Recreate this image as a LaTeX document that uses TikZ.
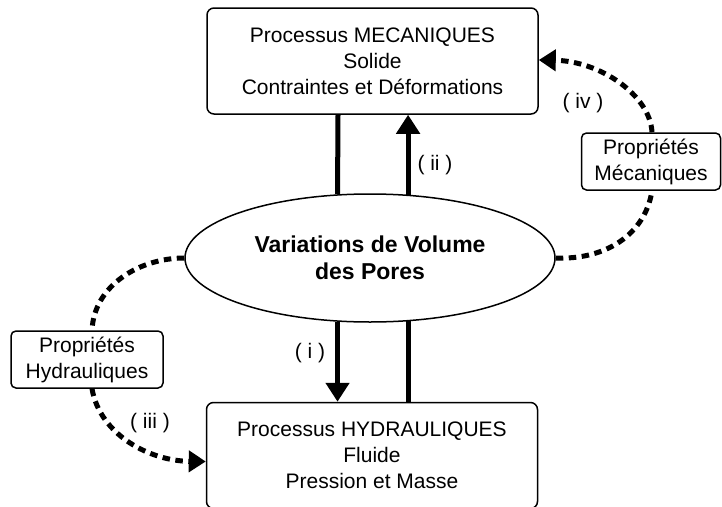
\documentclass[tikz,border=0pt]{standalone}
\usepackage{fontspec}
\setmainfont{Liberation Sans}
\usetikzlibrary{shapes.geometric,arrows.meta,calc}
\begin{document}
\begin{tikzpicture}[x=1pt,y=-1pt,
  txt/.style={font=\fontsize{21}{26}\selectfont},
  procbox/.style={draw,line width=1.5pt,rounded corners=7pt,minimum width=331pt,minimum height=106pt,align=center,inner sep=0pt,txt},
  propbox/.style={draw,line width=1.5pt,rounded corners=5pt,minimum width=152pt,minimum height=57pt,align=center,inner sep=0pt,txt},
  ellnode/.style={draw,line width=1.5pt,ellipse,minimum width=370pt,minimum height=128pt,inner sep=0pt,align=center,font=\fontsize{23}{27}\selectfont\bfseries},
  solidline/.style={line width=5pt},
  solidarrow/.style={line width=5pt,-{Triangle[length=19pt,width=23pt]}},
  dashline/.style={line width=5pt,dash pattern=on 7.5pt off 5.5pt},
  dasharrow/.style={line width=5pt,dash pattern=on 7.5pt off 5.5pt,-{Triangle[length=17pt,width=21pt]}},
  lbl/.style={txt,inner sep=0pt}
]
\useasboundingbox (0,0) rectangle (722,506);
\node[procbox] (tb) at (372.5,61) {Processus MECANIQUES\\Solide\\Contraintes et Déformations};
\node[procbox] (bb) at (372,455.5) {Processus HYDRAULIQUES\\Fluide\\Pression et Masse};
\node[ellnode] (ell) at (370,258) {Variations de Volume\\des Pores};
\node[propbox] (hb) at (87,359.5) {Propriétés\\Hydrauliques};
\node[propbox,minimum width=139pt] (mb) at (651,161.5) {Propriétés\\Mécaniques};

\coordinate (L) at (338,0);
\coordinate (R) at (408,0);
% top connectors
\draw[solidline] (tb.south -| L) -- (ell.117);
\draw[solidarrow] (ell.59) -- (tb.south -| ell.59);
% bottom connectors
\draw[solidarrow] (ell.-117) -- (bb.north -| ell.-117);
\draw[solidline] (bb.north -| ell.-59) -- (ell.-59);

% dashed hydraulic
\draw[dashline] (ell.west) .. controls (140,258) and (94,285) .. ($(hb.north)+(5,0)$);
\draw[dasharrow] ($(hb.south)+(5,0)$) .. controls (100,435) and (150,461) .. ($(bb.west)+(0,6)$);
% dashed mechanical
\draw[dashline] (ell.east) .. controls (605,260) and (645,235) .. ($(mb.south)+(1,0)$);
\draw[dasharrow] ($(mb.north)+(1,0)$) .. controls (650,95) and (600,61) .. ($(tb.east)+(0,-1)$);

% labels
\node[lbl] (li) at (310,353) {( i )};
\node[lbl] (lii) at (435,165) {( ii )};
\node[lbl] (liii) at (150,423) {( iii )};
\node[lbl] (liv) at (583,103) {( iv )};
\end{tikzpicture}
\end{document}
